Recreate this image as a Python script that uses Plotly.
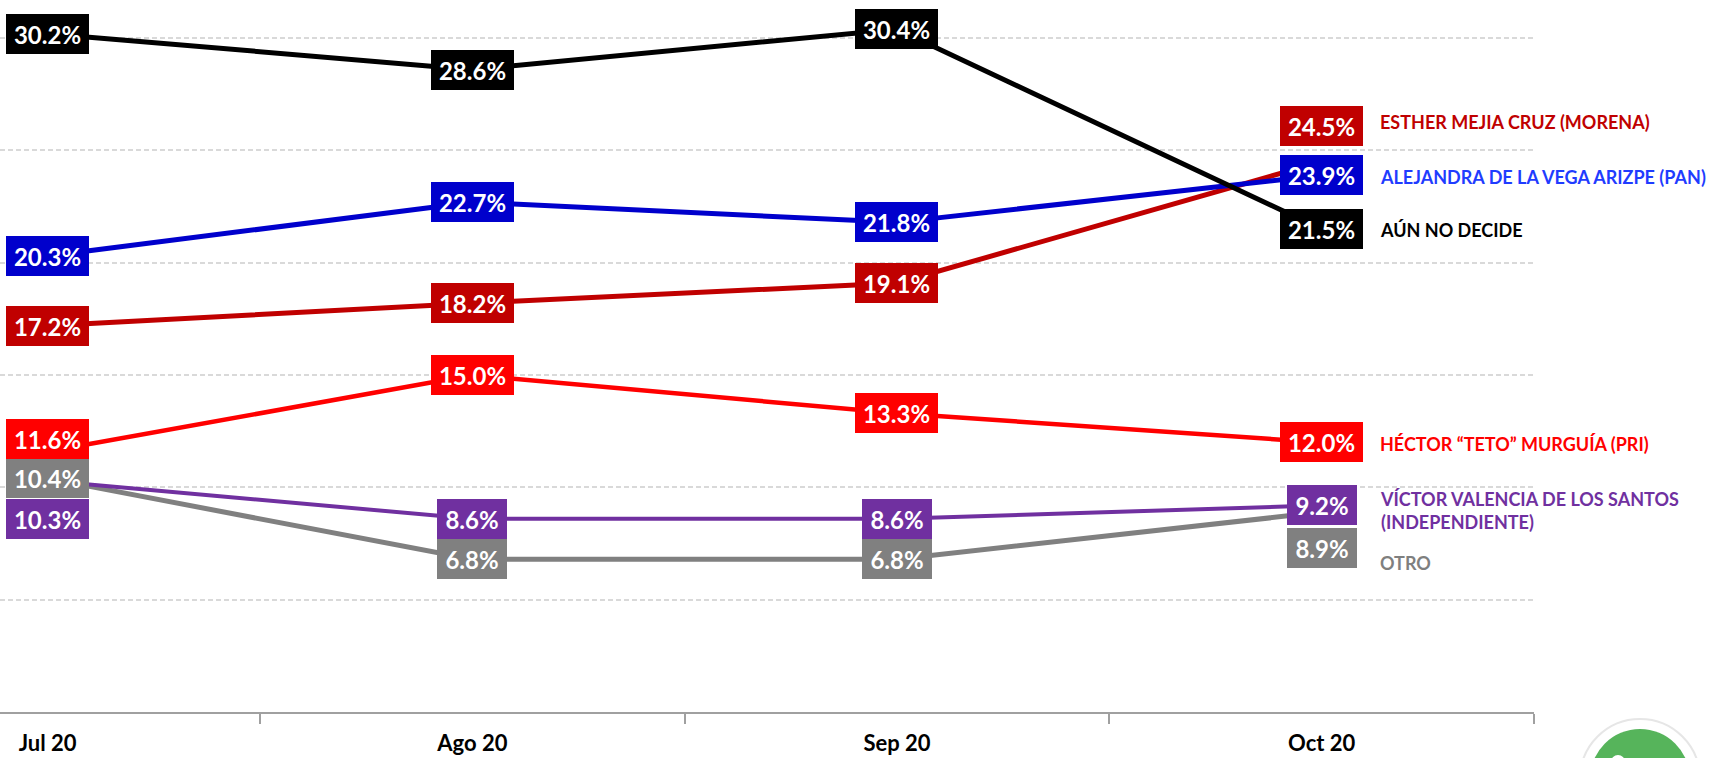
import plotly.graph_objects as go

# ---------------- data ----------------
months = ["Jul 20", "Ago 20", "Sep 20", "Oct 20"]
aun_no_decide = [30.2, 28.6, 30.4, 21.5]
pan = [20.3, 22.7, 21.8, 23.9]
morena = [17.2, 18.2, 19.1, 24.5]
pri = [11.6, 15.0, 13.3, 12.0]
independiente = [10.3, 8.6, 8.6, 9.2]
otro = [10.4, 6.8, 6.8, 8.9]

names = {
    "otro": "OTRO",
    "independiente": "VÍCTOR VALENCIA DE LOS SANTOS<br>(INDEPENDIENTE)",
    "pri": "HÉCTOR “TETO” MURGUÍA (PRI)",
    "morena": "ESTHER MEJIA CRUZ (MORENA)",
    "pan": "ALEJANDRA DE LA VEGA ARIZPE (PAN)",
    "aun": "AÚN NO DECIDE",
}

# ---------------- styles ----------------
series = [
    # key, values, line/box color, name color, line width
    ("otro", otro, "#808080", "#7F7F7F", 5),
    ("independiente", independiente, "#7030A0", "#7030A0", 4),
    ("pri", pri, "#FF0000", "#FF0000", 4.5),
    ("morena", morena, "#C00000", "#C00000", 5),
    ("pan", pan, "#0000CC", "#1F3CFF", 5),
    ("aun", aun_no_decide, "#000000", "#000000", 5),
]
# pixel shifts of value boxes to avoid overlaps (positive = up)
box_shift = {("pri", 0): 12, ("independiente", 0): -38, ("morena", 3): 36, ("otro", 3): -36}
# pixel shifts of the series name labels (positive = up)
name_shift = {"morena": 40, "pan": -1.5, "aun": -1, "pri": -2, "independiente": -5.5, "otro": -51}

FONT = "Lato"
xs = list(range(len(months)))

fig = go.Figure()
annotations = []
for key, vals, col, ncol, lw in series:
    fig.add_trace(go.Scatter(x=xs, y=vals, mode="lines",
                             line=dict(color=col, width=lw), hoverinfo="skip",
                             showlegend=False))
for key, vals, col, ncol, lw in series:
    for i, v in enumerate(vals):
        txt = f"{v:.1f}%"
        annotations.append(dict(
            x=xs[i], y=v, xref="x", yref="y", text=txt, showarrow=False,
            xanchor="center", yanchor="middle",
            yshift=box_shift.get((key, i), 0),
            bgcolor=col, borderpad=0, borderwidth=0,
            width=83 if len(txt) >= 5 else 70, height=40, valign="middle",
            font=dict(family=FONT, size=24, color="white", weight="bold"),
        ))
    annotations.append(dict(
        x=xs[-1], y=vals[-1], xref="x", yref="y", text=names[key], showarrow=False,
        xanchor="left", yanchor="middle", align="left",
        xshift=56, yshift=name_shift.get(key, 0),
        font=dict(family=FONT, size=18, color=ncol, weight="bold"),
    ))

cx, cy = 1640 / 1534, (712 - 779) / 712  # floating button centre (paper units)

fig.update_layout(
    width=1718, height=758,
    margin=dict(l=0, r=184, t=0, b=46),
    paper_bgcolor="white", plot_bgcolor="white",
    annotations=annotations,
    xaxis=dict(
        range=[-0.1121, 3.5], tickmode="array", tickvals=xs, ticktext=months,
        ticks="", showgrid=False, zeroline=False, automargin=False,
        showline=True, linecolor="#A0A0A0", linewidth=2,
        tickfont=dict(family=FONT, size=22, color="black", weight="bold"),
        ticklabelstandoff=11,
        minor=dict(tickvals=[0.5, 1.5, 2.5, 3.5], ticks="outside", ticklen=10,
                   tickwidth=2, tickcolor="#A0A0A0", showgrid=False),
    ),
    yaxis=dict(
        range=[0, 31.7], tick0=0, dtick=5, showticklabels=False, ticks="",
        showgrid=True, gridcolor="#D9D9D9", gridwidth=1.5, griddash="5px,3px",
        zeroline=False, showline=False, automargin=False,
    ),
    shapes=[
        dict(type="circle", xref="paper", yref="paper", xsizemode="pixel", ysizemode="pixel",
             xanchor=cx, yanchor=cy, x0=-60, x1=60, y0=-60, y1=60,
             fillcolor="white", line=dict(color="#E6E6E6", width=2), layer="above"),
        dict(type="circle", xref="paper", yref="paper", xsizemode="pixel", ysizemode="pixel",
             xanchor=cx, yanchor=cy, x0=-50, x1=50, y0=-50, y1=50,
             fillcolor="#56B45B", line=dict(width=0), layer="above"),
        dict(type="circle", xref="paper", yref="paper", xsizemode="pixel", ysizemode="pixel",
             xanchor=cx, yanchor=cy, x0=-29, x1=-15, y0=10, y1=24,
             fillcolor="white", line=dict(width=0), layer="above"),
    ],
)

fig.write_html("out.html", config={"displayModeBar": False},
               post_script="document.body.style.margin='0';document.body.style.overflow='hidden';")
